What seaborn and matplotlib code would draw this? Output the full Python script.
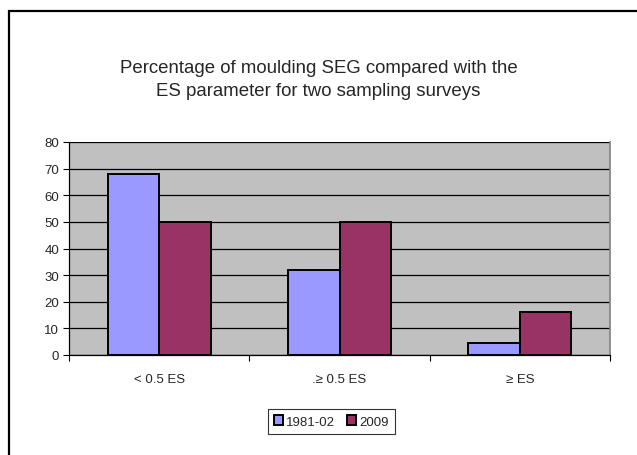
import matplotlib
matplotlib.use("Agg")
import matplotlib.pyplot as plt
import seaborn as sns
import pandas as pd
from matplotlib.patches import Rectangle
from matplotlib.ticker import FixedLocator, NullFormatter

# Survey data
categories = ["< 0.5 ES", ".\u2265 0.5 ES", "\u2265 ES"]
surveys = ["1981-02", "2009"]
values_1981 = [68, 32, 4.5]
values_2009 = [50, 50, 16]
colors = ["#9999FF", "#993366"]

df = pd.DataFrame({
    "category": categories * 2,
    "survey": [surveys[0]] * len(categories) + [surveys[1]] * len(categories),
    "value": values_1981 + values_2009,
})

sns.set_theme(style="white")
plt.rcParams["font.family"] = ["Liberation Sans", "DejaVu Sans"]

W, H = 637, 456
fig = plt.figure(figsize=(W / 100, H / 100), dpi=100)

# outer chart frame
fig.patches.append(Rectangle((9 / W, -0.1), 1.2, 1 - 12 / H + 0.1, transform=fig.transFigure,
                             fill=False, edgecolor="black", linewidth=1.6, zorder=0))

left, right, bottom, top = 69, 610, 356, 143
ax = fig.add_axes([left / W, 1 - bottom / H, (right - left) / W, (bottom - top) / H])
ax.set_facecolor("#C0C0C0")

sns.barplot(data=df, x="category", y="value", hue="survey", order=categories,
            hue_order=surveys, palette=colors, width=2 / 3.5, gap=0,
            edgecolor="black", linewidth=1.4, saturation=1, ax=ax, legend=True,
            zorder=3)

ax.set_xlim(-0.5, len(categories) - 0.5)
ax.set_ylim(0, 80)
ax.set_yticks(range(0, 81, 10))
ax.yaxis.grid(True, color="black", linewidth=0.9, zorder=1)
ax.set_axisbelow(True)
ax.set_xlabel("")
ax.set_ylabel("")

fs = 9.5
ax.tick_params(axis="y", which="major", length=4, width=0.8, color="black",
               labelsize=fs, pad=3, direction="out", left=True)
ax.tick_params(axis="x", which="major", length=0, labelsize=fs, pad=13)
ax.xaxis.set_minor_locator(FixedLocator([-0.5, 0.5, 1.5, 2.5]))
ax.xaxis.set_minor_formatter(NullFormatter())
ax.tick_params(axis="x", which="minor", length=4, width=0.8, color="black",
               direction="out", bottom=True)

for s in ["left", "bottom"]:
    ax.spines[s].set_color("black")
    ax.spines[s].set_linewidth(0.9)
for s in ["top", "right"]:
    ax.spines[s].set_color("#808080")
    ax.spines[s].set_linewidth(1.2)
ax.spines["top"].set_visible(False)

leg = ax.legend(loc="center", bbox_to_anchor=(331.5 / W, 1 - 422.5 / H),
                bbox_transform=fig.transFigure, ncol=2, frameon=True,
                fontsize=fs, handlelength=0.7, handleheight=0.7,
                handletextpad=0.25, columnspacing=0.9, borderpad=0.45,
                fancybox=False)
leg.get_frame().set_edgecolor("black")
leg.get_frame().set_linewidth(0.8)
for h in leg.legend_handles:
    h.set_edgecolor("black")
    h.set_linewidth(1.4)

fig.text(318.5 / W, 1 - 80 / H,
         "Percentage of moulding SEG compared with the\nES parameter for two sampling surveys",
         ha="center", va="center", fontsize=13.4, linespacing=1.4)

fig.savefig("out.png", dpi=100, facecolor="white")
